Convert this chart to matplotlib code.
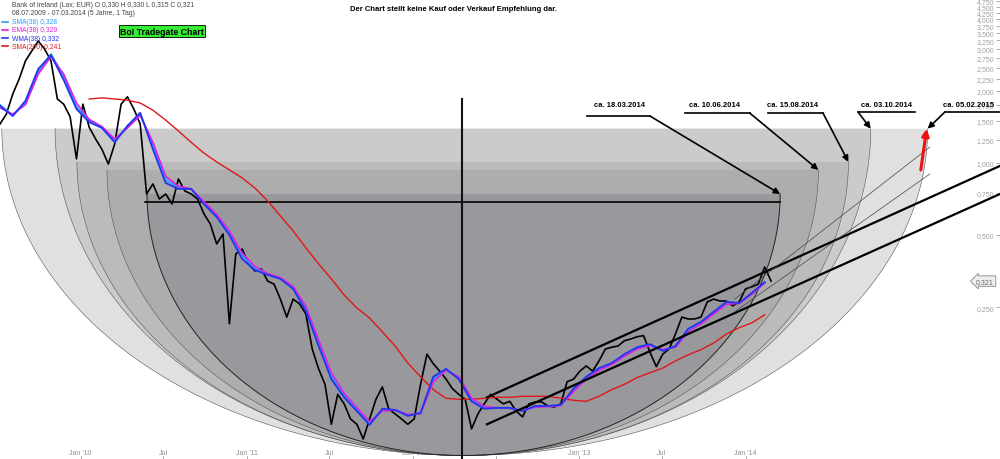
import numpy as np
import pandas as pd
import matplotlib
matplotlib.use('Agg')
import matplotlib.pyplot as plt
import matplotlib.dates as mdates
import matplotlib.transforms as mtransforms

plt.rcParams['font.family'] = ['Liberation Sans', 'DejaVu Sans']

# Kurs (Schluss), zweiwöchentlich ab 08.07.2009
price_start = '2009-07-08'
close = [1.455, 1.60, 1.94, 2.24, 2.67, 2.94, 3.23, 2.99, 2.67, 1.85,
         1.76, 1.56, 1.04, 1.76, 1.41, 1.26, 1.14, 0.99, 1.20, 1.76,
         1.89, 1.68, 1.455, 0.742, 0.817, 0.707, 0.742, 0.674, 0.857, 0.764,
         0.742, 0.707, 0.613, 0.556, 0.459, 0.505, 0.213, 0.417, 0.437, 0.379,
         0.354, 0.361, 0.321, 0.312, 0.270, 0.227, 0.270, 0.258, 0.234, 0.167,
         0.138, 0.119, 0.081, 0.108, 0.0986, 0.0853, 0.081, 0.0703, 0.0853, 0.103,
         0.116, 0.094, 0.0895, 0.0853, 0.081, 0.0853, 0.119, 0.159, 0.145, 0.135,
         0.125, 0.114, 0.108, 0.103, 0.0775, 0.0895, 0.0986, 0.108, 0.103, 0.0986,
         0.101, 0.092, 0.087, 0.0986, 0.1004, 0.1004, 0.0966, 0.0957, 0.0986, 0.122,
         0.125, 0.135, 0.142, 0.135, 0.149, 0.167, 0.170, 0.172, 0.181, 0.184,
         0.188, 0.190, 0.162, 0.141, 0.159, 0.167, 0.193, 0.227, 0.223, 0.223,
         0.227, 0.263, 0.270, 0.265, 0.265, 0.253, 0.263, 0.298, 0.304, 0.312,
         0.368, 0.321]

ma_start = '2009-07-08'
sma38 = [1.75, 1.58, 1.78, 2.40, 2.85, 2.30, 1.72, 1.50, 1.41, 1.24,
         1.41, 1.60, 1.18, 0.85, 0.79, 0.78, 0.68, 0.60, 0.51, 0.41,
         0.362, 0.343, 0.330, 0.30, 0.246, 0.177, 0.129, 0.107, 0.093, 0.082,
         0.093, 0.093, 0.0885, 0.090, 0.125, 0.137, 0.127, 0.103, 0.095, 0.095,
         0.0945, 0.0925, 0.096, 0.0965, 0.0975, 0.112, 0.126, 0.137, 0.145, 0.157,
         0.168, 0.174, 0.165, 0.171, 0.200, 0.215, 0.236, 0.260, 0.26, 0.285, 0.316]
ema38 = [1.70, 1.60, 1.75, 2.35, 2.78, 2.35, 1.78, 1.52, 1.42, 1.26,
         1.40, 1.58, 1.22, 0.88, 0.80, 0.78, 0.69, 0.61, 0.52, 0.42,
         0.37, 0.345, 0.332, 0.305, 0.252, 0.182, 0.133, 0.109, 0.095, 0.083,
         0.092, 0.093, 0.089, 0.0895, 0.122, 0.136, 0.128, 0.104, 0.096, 0.095,
         0.0945, 0.0925, 0.0955, 0.096, 0.097, 0.111, 0.125, 0.136, 0.144, 0.156,
         0.167, 0.173, 0.166, 0.170, 0.197, 0.213, 0.234, 0.257, 0.259, 0.283, 0.315]
wma38 = [1.73, 1.57, 1.82, 2.47, 2.82, 2.22, 1.68, 1.48, 1.40, 1.22,
         1.43, 1.62, 1.14, 0.825, 0.779, 0.779, 0.674, 0.595, 0.50, 0.397,
         0.357, 0.341, 0.328, 0.298, 0.241, 0.172, 0.125, 0.105, 0.092, 0.0805,
         0.094, 0.093, 0.0878, 0.0904, 0.128, 0.138, 0.125, 0.101, 0.094, 0.0948,
         0.0948, 0.092, 0.0966, 0.0966, 0.0976, 0.114, 0.128, 0.139, 0.146, 0.159,
         0.170, 0.175, 0.164, 0.172, 0.203, 0.217, 0.239, 0.263, 0.260, 0.287, 0.318]
sma200_start = '2010-01-20'
sma200 = [1.85, 1.87, 1.85, 1.83, 1.78, 1.66, 1.51, 1.36, 1.22, 1.10,
          1.01, 0.935, 0.866, 0.786, 0.694, 0.601, 0.520, 0.442, 0.379, 0.328,
          0.281, 0.248, 0.225, 0.197, 0.172, 0.146, 0.128, 0.113, 0.104, 0.103,
          0.103, 0.104, 0.105, 0.105, 0.106, 0.106, 0.106, 0.104, 0.102, 0.101,
          0.106, 0.113, 0.119, 0.127, 0.133, 0.139, 0.149, 0.158, 0.166, 0.177,
          0.193, 0.205, 0.215, 0.232]

# Schalen (Halbellipsen) mit Zieldaten
bowl_left = ['2009-07-12', '2009-11-06', '2009-12-24', '2010-02-28', '2010-05-27']
bowl_right = ['2015-02-05', '2014-10-03', '2014-08-15', '2014-06-10', '2014-03-18']
bowl_top = [1.39, 1.39, 1.01, 0.935, 0.742]
bowl_bottom = 0.060
bowl_colors = ['#e0e0e0', '#cbcbcb', '#bbbbbb', '#adadad', '#98989d']

# Zeitpunkte der Beschriftungen (innen -> außen)
target_labels = ['ca. 18.03.2014', 'ca. 10.06.2014', 'ca. 15.08.2014', 'ca. 03.10.2014', 'ca. 05.02.2015']
label_x = ['2013-03-29', '2013-10-25', '2014-04-15', '2014-11-06', '2015-05-06']
label_y = 1.76
ul_from = ['2013-01-17', '2013-08-21', '2014-02-19', '2014-09-05', '2015-03-15']
ul_to = ['2013-06-05', '2014-01-10', '2014-06-20', '2015-01-08', '2015-07-14']
ul_y = [1.57, 1.617, 1.617, 1.633, 1.633]
arrow_from = ['2013-06-05', '2014-01-10', '2014-06-20', '2014-09-05', '2015-03-15']

# Trendkanal
chan_start = [('2012-06-12', 0.105), ('2012-06-12', 0.081), ('2013-12-08', 0.270), ('2013-12-08', 0.239)]
chan_end = [('2015-07-14', 0.972), ('2015-07-14', 0.742), ('2015-02-10', 1.166), ('2015-02-10', 0.90)]
chan_width = [1.6, 1.6, 0.5, 0.5]

x_ticks = ['2010-01-01', '2010-07-01', '2011-01-01', '2011-07-01', '2012-01-01',
           '2012-07-01', '2013-01-01', '2013-07-01', '2014-01-01']
x_labels = ["Jan '10", 'Jul', "Jan '11", 'Jul', "Jan '12", 'Jul', "Jan '13", 'Jul', "Jan '14"]
y_ticks = [0.25, 0.5, 0.75, 1.0, 1.25, 1.5, 1.75, 2.0, 2.25, 2.5, 2.75, 3.0,
           3.25, 3.5, 3.75, 4.0, 4.25, 4.5, 4.75]

fig = plt.figure(figsize=(10, 4.6), dpi=100)
ax = fig.add_axes([0, 0, 1, 1])
ax.set_xlim(pd.Timestamp('2009-07-08'), pd.Timestamp('2015-07-14'))
ax.set_yscale('log')
ax.set_ylim(0.058, 4.84)
ax.set_axisbelow(True)

# Schalen
t = np.linspace(0, np.pi, 300)
lb = np.log10(bowl_bottom)
for k in range(len(bowl_left)):
    x0 = mdates.date2num(pd.Timestamp(bowl_left[k]))
    x1 = mdates.date2num(pd.Timestamp(bowl_right[k]))
    cx, rx = (x0 + x1) / 2, (x1 - x0) / 2
    lt = np.log10(bowl_top[k])
    xs = cx - rx * np.cos(t)
    ys = 10 ** (lt - (lt - lb) * np.sin(t))
    ax.fill(xs, ys, color=bowl_colors[k], lw=0, zorder=1)
    last = k == len(bowl_left) - 1
    ax.plot(xs, ys, color='#222222' if last else '#555555', lw=0.7 if last else 0.4, zorder=1.2)

ax.plot(pd.to_datetime(['2010-05-23', '2014-03-18']), [0.687, 0.687], color='black', lw=1.2, zorder=2)
ax.plot(pd.to_datetime(['2012-04-19', '2012-04-19']), [1.85, 0.058], color='#111111', lw=1.5, zorder=5)

# Kurs und Durchschnitte
price_dates = pd.date_range(price_start, periods=len(close), freq='14D')
ma_dates = pd.date_range(ma_start, periods=len(sma38), freq='28D')
sma200_dates = pd.date_range(sma200_start, periods=len(sma200), freq='28D')
ax.plot(price_dates, close, color='black', lw=1.2, zorder=3)
ax.plot(sma200_dates, sma200, color='#e01818', lw=1.0, zorder=3.5)
ax.plot(ma_dates, sma38, color='#2a9dff', lw=1.3, zorder=4)
ax.plot(ma_dates, ema38, color='#e020e0', lw=1.2, zorder=4)
ax.plot(ma_dates, wma38, color='#2035f0', lw=1.3, zorder=4)

for (d0, p0), (d1, p1), w in zip(chan_start, chan_end, chan_width):
    ax.plot(pd.to_datetime([d0, d1]), [p0, p1], color='black' if w > 1 else '#444444', lw=w, zorder=4.5)

# Beschriftungen mit Pfeilen
tips_x = bowl_right[::-1]
tips_y = bowl_top[::-1]
for k in range(len(target_labels)):
    ax.text(pd.Timestamp(label_x[k]), label_y, target_labels[k], fontsize=5.5, fontweight='bold',
            ha='center', va='center', zorder=6)
    ax.plot(pd.to_datetime([ul_from[k], ul_to[k]]), [ul_y[k], ul_y[k]], color='black', lw=1.2, zorder=6)
    ax.annotate('', xy=(pd.Timestamp(tips_x[k]), tips_y[k]),
                xytext=(pd.Timestamp(arrow_from[k]), ul_y[k]),
                arrowprops=dict(arrowstyle='-|>', color='black', lw=1.2, mutation_scale=9,
                                shrinkA=0, shrinkB=0), zorder=6)
ax.annotate('', xy=(pd.Timestamp('2015-02-03'), 1.39), xytext=(pd.Timestamp('2015-01-21'), 0.935),
            arrowprops=dict(arrowstyle='-|>', color='#ee1111', lw=2.2, mutation_scale=10,
                            shrinkA=0, shrinkB=0), zorder=6)

# Achsen
ax.yaxis.tick_right()
ax.set_yticks(y_ticks)
ax.set_yticklabels([f'{v:.3f}'.replace('.', ',') for v in y_ticks])
ax.yaxis.set_minor_locator(matplotlib.ticker.NullLocator())
ax.tick_params(axis='y', direction='in', length=3, width=0.6, colors='#a0a0a0', labelsize=5, pad=-4)
for lbl in ax.get_yticklabels():
    lbl.set_horizontalalignment('right')
ax.set_xticks(pd.to_datetime(x_ticks))
ax.set_xticklabels(x_labels)
ax.tick_params(axis='x', direction='in', length=2.5, width=0.6, colors='#909090', labelsize=5, pad=-7)
for s in ax.spines.values():
    s.set_visible(False)

blend = mtransforms.blended_transform_factory(ax.transAxes, ax.transData)
ax.text(0.994, 0.321, '0,321', transform=blend, ha='right', va='center', fontsize=5, color='#666666',
        bbox=dict(boxstyle='larrow,pad=0.25', fc='#eeeeee', ec='#888888', lw=0.6), zorder=7)

# Legende oben links
legend_rows = [('Bank of Ireland (Lax; EUR) O 0,330 H 0,330 L 0,315 C 0,321', '#444444'),
               ('08.07.2009 - 07.03.2014 (5 Jahre, 1 Tag)', '#444444'),
               ('SMA(38) 0,328', '#2a9dff'),
               ('EMA(38) 0,329', '#e020e0'),
               ('WMA(38) 0,332', '#2035f0'),
               ('SMA(200) 0,241', '#e01818')]
row_y = [0.987, 0.970, 0.951, 0.933, 0.915, 0.897]
for (txt, col), yy in zip(legend_rows, row_y):
    ax.text(0.012, yy, txt, transform=ax.transAxes, fontsize=4.9, color=col, va='center', zorder=7)
    if col != '#444444':
        ax.plot([0.002, 0.008], [yy, yy], transform=ax.transAxes, color=col, lw=1.2, zorder=7)

ax.text(0.162, 0.930, 'BoI Tradegate Chart', transform=ax.transAxes, fontsize=6.3, fontweight='bold',
        ha='center', va='center', zorder=7,
        bbox=dict(boxstyle='square,pad=0.15', fc='#33ee33', ec='black', lw=0.6))
ax.text(0.453, 0.980, 'Der Chart stellt keine Kauf oder Verkauf Empfehlung dar.', transform=ax.transAxes,
        fontsize=5.5, fontweight='bold', ha='center', va='center', zorder=7)

fig.savefig('out.png', dpi=100)
